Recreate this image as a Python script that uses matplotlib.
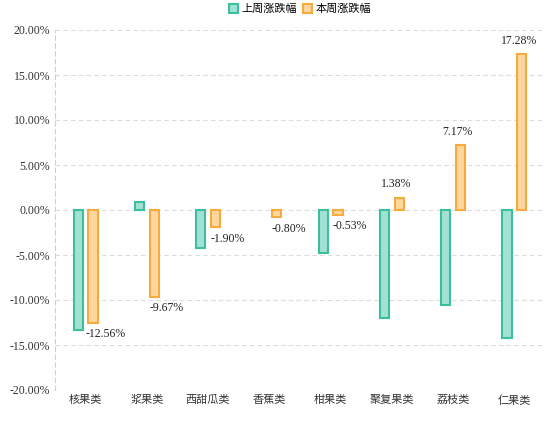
import matplotlib
matplotlib.use("Agg")
import matplotlib.pyplot as plt
import numpy as np

categories = ["核果类", "浆果类", "西甜瓜类", "香蕉类", "柑果类", "聚复果类", "荔枝类", "仁果类"]
last_week = [-13.3, 0.9, -4.2, np.nan, -4.8, -12.0, -10.6, -14.2]
this_week = [-12.56, -9.67, -1.90, -0.80, -0.53, 1.38, 7.17, 17.28]
series_names = ["上周涨跌幅", "本周涨跌幅"]

cjk = ["Noto Sans CJK SC", "DejaVu Sans"]
serif = ["Liberation Serif", "DejaVu Serif"]

fig = plt.figure(figsize=(5.54, 4.26), dpi=100)
ax = fig.add_axes([55/554, 1-390/426, 490/554, 360/426])
x = np.arange(len(categories))
w = 0.15
off = 0.12
ax.bar(x - off, last_week, w, color="#a3e1d4", edgecolor="#3cbf9c", linewidth=1.5, label=series_names[0])
ax.bar(x + off, this_week, w, color="#ffd79e", edgecolor="#f7aa3d", linewidth=1.5, label=series_names[1])
for xi, v in zip(x, this_week):
    if v < 0:
        ax.text(xi + off + 0.2, v - 0.6, f"{v:.2f}%", ha="center", va="top", fontsize=8.5, family=serif, color="#222222")
    else:
        ax.text(xi + off - 0.05, v + 0.8, f"{v:.2f}%", ha="center", va="bottom", fontsize=8.5, family=serif, color="#222222")

ax.set_ylim(-20, 20)
ax.set_xlim(-0.5, len(categories) - 0.5)
ax.set_yticks(np.arange(-20, 21, 5))
ax.set_yticklabels([f"{t:.2f}%" for t in np.arange(-20, 21, 5)], family=serif, fontsize=8.5, color="#333333")
ax.set_xticks(x)
ax.set_xticklabels(categories, family=cjk, fontsize=8, color="#333333")
ax.tick_params(length=0)
for s in ["top", "right", "bottom"]:
    ax.spines[s].set_visible(False)
ax.spines["left"].set_linestyle((0, (4, 3)))
ax.spines["left"].set_color("#d0d0d0")
for t in np.arange(-20, 21, 5):
    ax.axhline(t, color="#dddddd", linestyle=(0, (4, 3)), linewidth=0.8, zorder=0)
ax.legend(loc="upper center", bbox_to_anchor=(0.5, 1.1), ncol=2, frameon=False,
          prop={"family": cjk, "size": 8}, handlelength=0.8, handleheight=0.8, columnspacing=0.6, handletextpad=0.3)
fig.savefig("out.png", dpi=100)
